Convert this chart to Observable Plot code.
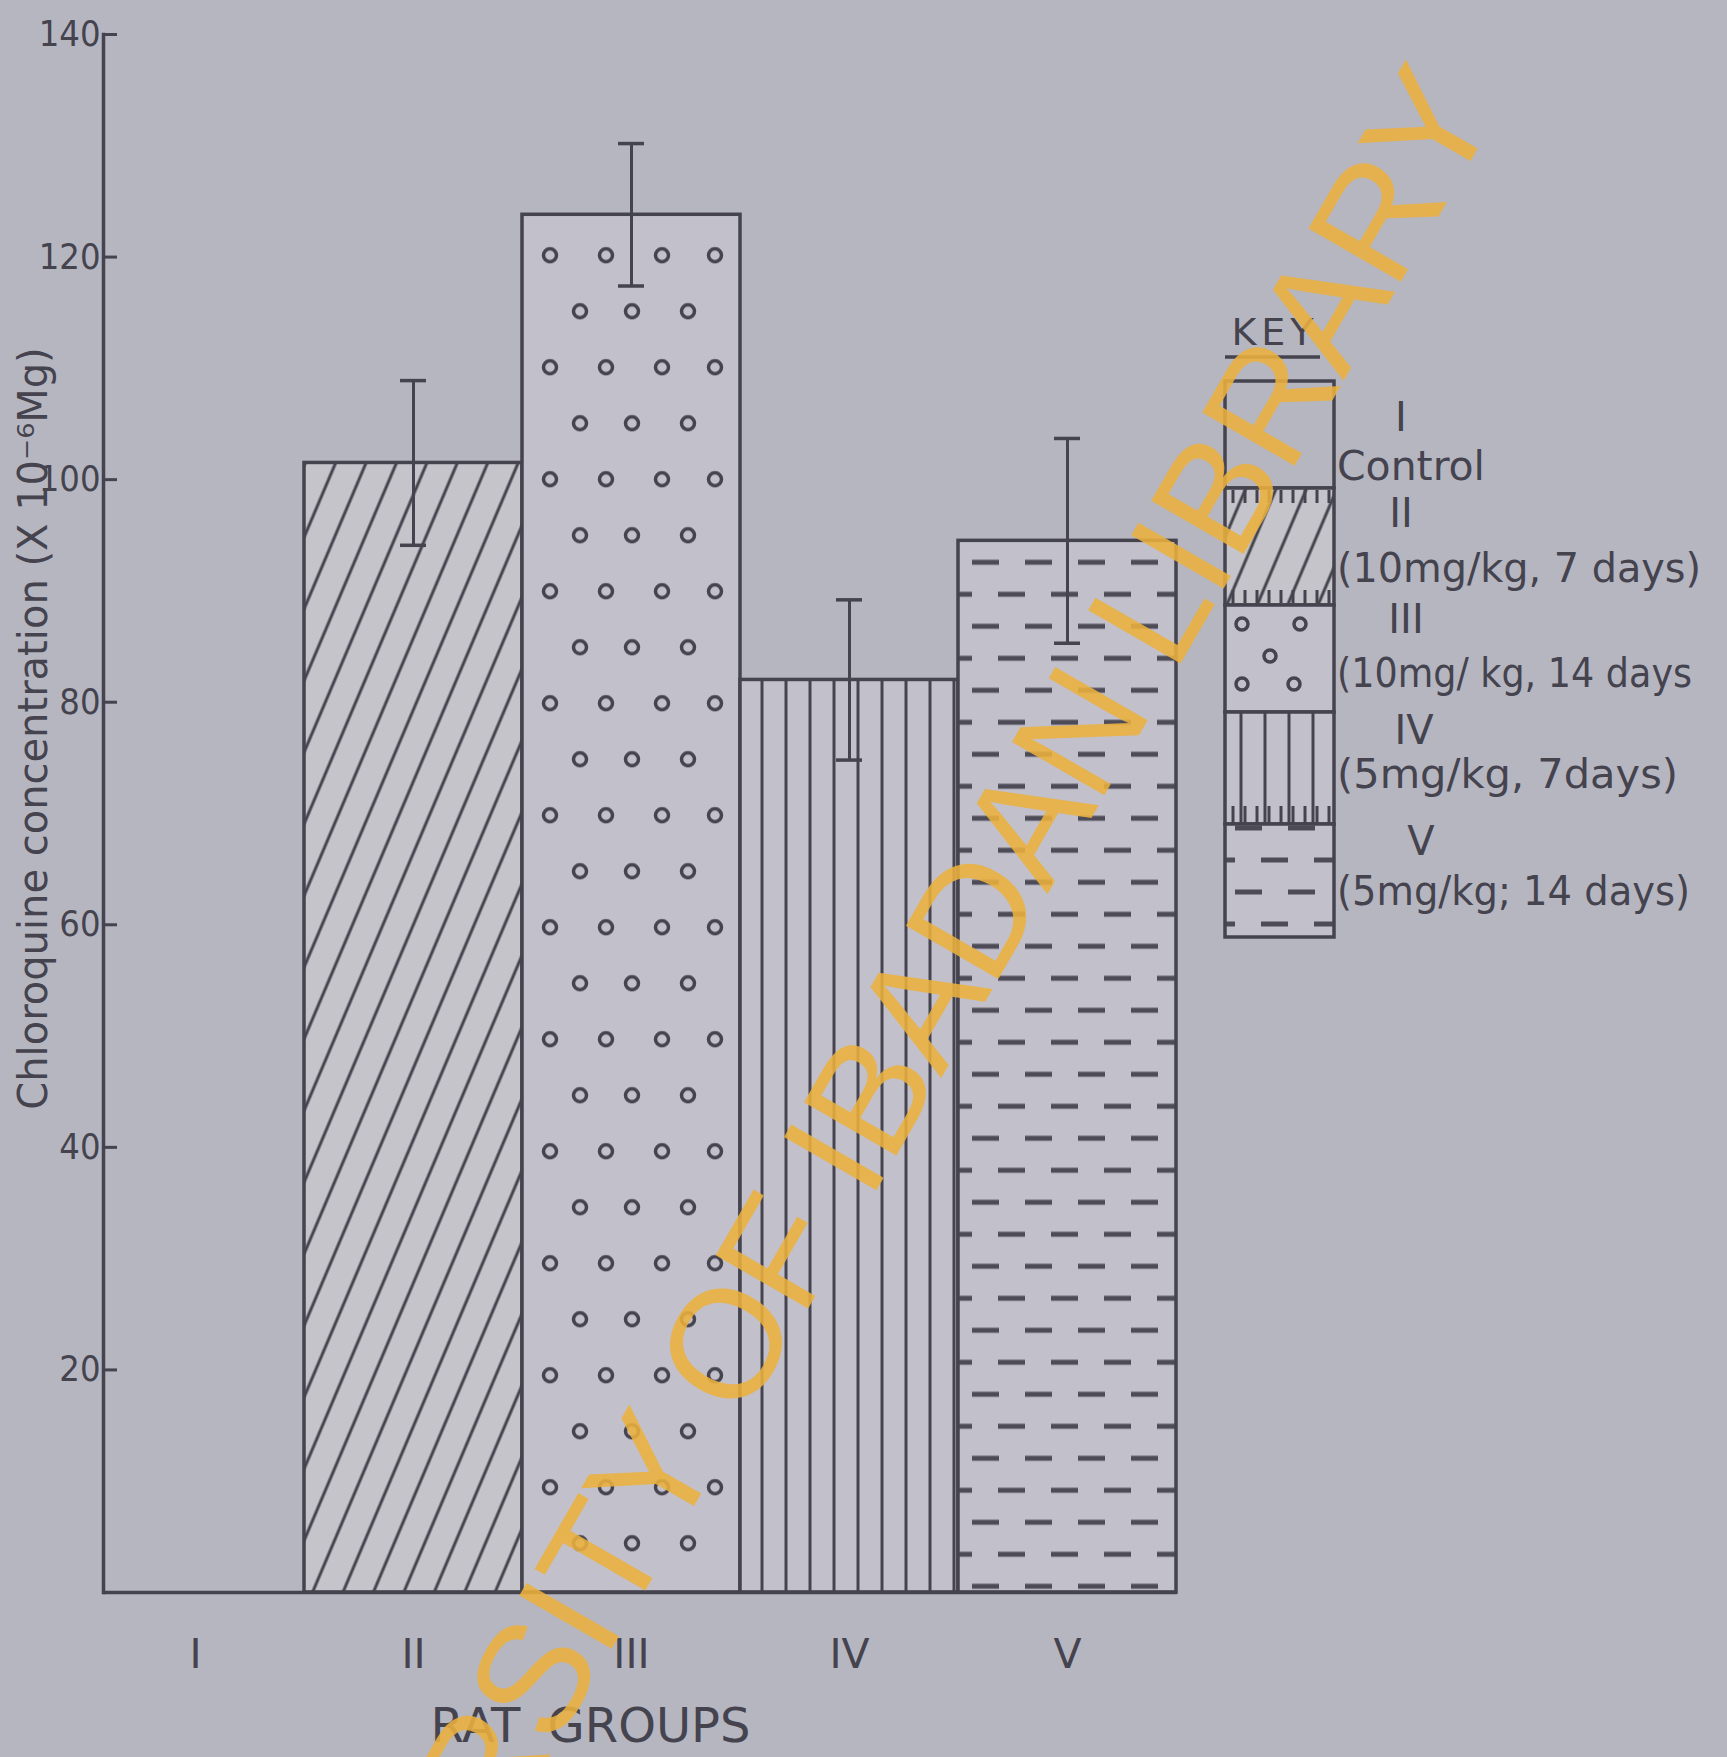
<!DOCTYPE html>
<html><head><meta charset="utf-8">
<script src="https://cdn.jsdelivr.net/npm/d3@7"></script>
<script src="https://cdn.jsdelivr.net/npm/@observablehq/plot@0.6"></script>
<style>
html,body{margin:0;padding:0;background:#b6b6c1;}
#wrap{position:relative;width:1727px;height:1757px;overflow:hidden;background:#b6b6c1;}
#wrap svg{position:absolute;left:0;top:0;}
</style></head><body><div id="wrap"></div>
<script>
// ---- data ----
const groups = ["I", "II", "III", "IV", "V"];
const means = [0, 101.5, 123.8, 82, 94.5];
const errors = [0, 7.4, 6.4, 7.2, 9.2];
const yTicks = [20, 40, 60, 80, 100, 120, 140];
const legendNumerals = ["I", "II", "III", "IV", "V"];
const legendLabels = ["Control", "(10mg/kg, 7 days)", "(10mg/ kg, 14 days", "(5mg/kg, 7days)", "(5mg/kg; 14 days)"];
const yLabel = "Chloroquine concentration (X 10⁻⁶Mg)";
const xLabel = "RAT GROUPS";
const keyTitle = "KEY";
const watermark = "UNIVERSITY OF IBADAN LIBRARY";

const ink = "#44434e";
const barBg = "#c2c1cb";
const rows = groups.map((g, i) => ({group: g, mean: means[i], err: errors[i]}));
const bars = rows.filter(d => d.mean > 0);
const fontC = "'DejaVu Sans Condensed','DejaVu Sans',sans-serif";
const font = "'DejaVu Sans',sans-serif";

const chart = Plot.plot({
  width: 1727, height: 1757,
  marginTop: 34, marginBottom: 165, marginLeft: 103, marginRight: 550,
  style: {background: "transparent", color: ink, fontFamily: font},
  x: {domain: groups, range: [85, 1177], padding: 0, label: null},
  y: {domain: [0, 140], label: null},
  color: {type: "identity"},
  marks: [
    Plot.barY(bars, {x: "group", y: "mean", fill: d => `url(#pat-${d.group})`, stroke: ink, strokeWidth: 3.5}),
    Plot.ruleX(bars, {x: "group", y1: d => d.mean - d.err, y2: d => d.mean + d.err, stroke: ink, strokeWidth: 3}),
    Plot.tickY(bars, {x: "group", y: d => d.mean + d.err, insetLeft: 96, insetRight: 96, stroke: ink, strokeWidth: 3.5}),
    Plot.tickY(bars, {x: "group", y: d => d.mean - d.err, insetLeft: 96, insetRight: 96, stroke: ink, strokeWidth: 3.5}),
    Plot.ruleY([0], {stroke: ink, strokeWidth: 3.5}),
    Plot.frame({anchor: "left", stroke: ink, strokeWidth: 3.5}),
    Plot.axisY({ticks: yTicks, tickSize: -14, tickFormat: () => "", strokeWidth: 3, label: null}),
    Plot.axisY({ticks: yTicks, tickSize: 0, tickPadding: 3, fontSize: 36, fontFamily: fontC, label: null}),
    Plot.axisX({tickSize: 0, tickPadding: 46, fontSize: 41, label: null}),
    Plot.text([yLabel], {text: d => d, frameAnchor: "left", textAnchor: "middle", lineAnchor: "middle", dx: -69, dy: -85, rotate: -90, fontSize: 40, fill: ink}),
    Plot.text([xLabel], {text: d => d, frameAnchor: "bottom", textAnchor: "middle", lineAnchor: "middle", dx: -50, dy: 134, fontSize: 48, fill: ink})
  ]
});
document.getElementById("wrap").appendChild(chart);
d3.select(chart).selectAll("text").filter(function () { return this.textContent === xLabel; }).style("word-spacing", "12px");

// ---- fill patterns ----
const xs = chart.scale("x"), ys = chart.scale("y");
const bw = xs.bandwidth;
function makePatterns(defs, prefix, origin) {
  // II: diagonal hatch
  const h = defs.append("pattern").attr("id", prefix + "II").attr("patternUnits", "userSpaceOnUse")
    .attr("width", 28).attr("height", 28).attr("patternTransform", `translate(${origin.II},0) rotate(23)`);
  h.append("rect").attr("width", 28).attr("height", 28).attr("fill", "#c4c4ca");
  h.append("line").attr("x1", 14).attr("x2", 14).attr("y1", -2).attr("y2", 30).attr("stroke", ink).attr("stroke-width", 3);
  // III: staggered small circles (rows of four and three)
  const c = defs.append("pattern").attr("id", prefix + "III").attr("patternUnits", "userSpaceOnUse")
    .attr("width", bw).attr("height", 112).attr("x", origin.III).attr("y", origin.top);
  c.append("rect").attr("width", bw).attr("height", 112).attr("fill", barBg);
  [[28, 41], [84, 41], [140, 41], [193, 41], [58, 97], [110, 97], [166, 97]].forEach(([cx, cy]) =>
    c.append("circle").attr("cx", cx).attr("cy", cy).attr("r", 6.5).attr("fill", "none").attr("stroke", ink).attr("stroke-width", 3.5));
  // IV: vertical lines
  const v = defs.append("pattern").attr("id", prefix + "IV").attr("patternUnits", "userSpaceOnUse")
    .attr("width", 24).attr("height", 20).attr("x", origin.IV + 10);
  v.append("rect").attr("width", 24).attr("height", 20).attr("fill", barBg);
  v.append("line").attr("x1", 12).attr("x2", 12).attr("y1", -1).attr("y2", 21).attr("stroke", ink).attr("stroke-width", 3);
  // V: staggered horizontal dashes
  const d = defs.append("pattern").attr("id", prefix + "V").attr("patternUnits", "userSpaceOnUse")
    .attr("width", 53).attr("height", 64).attr("x", origin.V + 8).attr("y", origin.top + 8);
  d.append("rect").attr("width", 53).attr("height", 64).attr("fill", barBg);
  [[6, 33, 20], [32, 53, 52], [0, 6, 52]].forEach(([a, b, y]) =>
    d.append("line").attr("x1", a).attr("x2", b).attr("y1", y).attr("y2", y).attr("stroke", "#4c4b57").attr("stroke-width", 5));
}
makePatterns(d3.select(chart).insert("defs", ":first-child"), "pat-",
  {II: xs.apply("II"), III: xs.apply("III"), IV: xs.apply("IV"), V: xs.apply("V"), top: ys.apply(means[2])});

// ---- overlay: key (legend) and watermark ----
const ov = d3.select("#wrap").append("svg").attr("width", 1727).attr("height", 1757).style("pointer-events", "none");
const lx = 1225, lw = 109;
const segs = [381, 488, 605, 712, 824, 937];
makePatterns(ov.append("defs"), "lg-", {II: lx, III: lx, IV: lx - 6, V: lx - 4, top: 800});
const lg = ov.append("g").attr("font-family", font).attr("fill", ink);
lg.append("text").attr("x", 1275).attr("y", 345).attr("text-anchor", "middle").attr("font-size", 38)
  .attr("letter-spacing", 5).text(keyTitle);
lg.append("line").attr("x1", 1225).attr("x2", 1320).attr("y1", 357).attr("y2", 357).attr("stroke", ink).attr("stroke-width", 3.5);
legendNumerals.forEach((g, i) => {
  const fill = (i === 0 || i === 2) ? barBg : `url(#lg-${g})`;
  lg.append("rect").attr("x", lx).attr("y", segs[i]).attr("width", lw).attr("height", segs[i + 1] - segs[i])
    .attr("fill", i === 0 ? "none" : fill).attr("stroke", ink).attr("stroke-width", 3.5);
});
// key swatch III: five small circles
[[1242, 624], [1300, 624], [1270, 656], [1242, 684], [1294, 684]].forEach(([cx, cy]) =>
  lg.append("circle").attr("cx", cx).attr("cy", cy).attr("r", 6).attr("fill", "none").attr("stroke", ink).attr("stroke-width", 3.5));
// comb-like edges of swatch II and the IV/V join
const comb = d3.range(lx + 8, lx + lw - 4, 12);
comb.forEach(x => {
  lg.append("line").attr("x1", x).attr("x2", x).attr("y1", 490).attr("y2", 503).attr("stroke", ink).attr("stroke-width", 3);
  lg.append("line").attr("x1", x).attr("x2", x).attr("y1", 590).attr("y2", 603).attr("stroke", ink).attr("stroke-width", 3);
  lg.append("line").attr("x1", x).attr("x2", x).attr("y1", 806).attr("y2", 824).attr("stroke", ink).attr("stroke-width", 3);
});
const numY = [431, 527, 633, 744, 855];
const numX = [1401, 1401, 1406, 1414, 1421];
const labY = [480, 582, 687, 788, 905];
const labW = [148, 364, 355, 341, 353];
legendNumerals.forEach((g, i) => {
  lg.append("text").attr("x", numX[i]).attr("y", numY[i]).attr("text-anchor", "middle").attr("font-size", 40).text(g);
  lg.append("text").attr("x", 1337).attr("y", labY[i]).attr("font-size", 40)
    .attr("textLength", labW[i]).attr("lengthAdjust", "spacingAndGlyphs").text(legendLabels[i]);
});

ov.append("text").attr("transform", "translate(1500,110) rotate(-60)")
  .attr("text-anchor", "end").attr("font-family", "'Liberation Sans',Arial,sans-serif")
  .attr("font-size", 155).attr("textLength", 2470).attr("lengthAdjust", "spacing")
  .attr("fill", "#eab03e").attr("fill-opacity", 0.88).text(watermark);
</script></body></html>
